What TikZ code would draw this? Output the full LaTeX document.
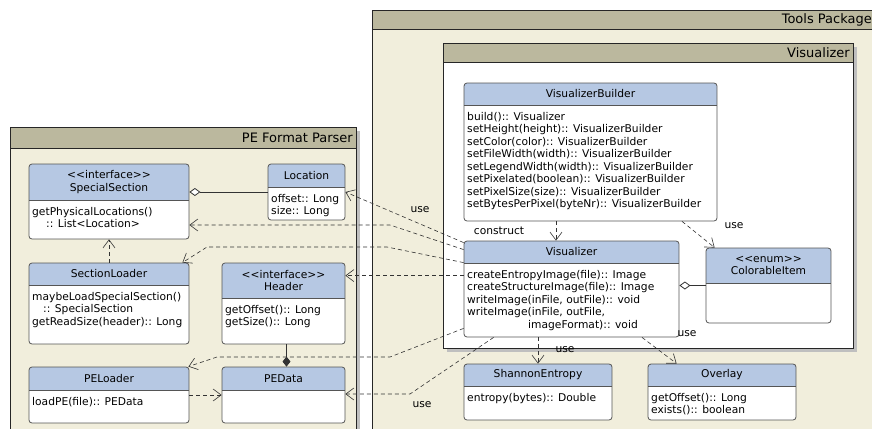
\documentclass[tikz,border=0pt]{standalone}
\usepackage{fontspec}
\setmainfont{DejaVu Sans}
\usetikzlibrary{arrows.meta,fit,calc}

\definecolor{pkghead}{RGB}{187,184,158}
\definecolor{pkgbody}{RGB}{241,238,220}
\definecolor{clshead}{RGB}{182,200,227}
\definecolor{clsline}{RGB}{85,85,85}

% package: name, left, top, right, header bottom, bottom, title, fill
\newcommand{\umlpackage}[8]{
  \fill[black!25] ($(#2,#3)+(4,4)$) rectangle ($(#4,#6)+(4,4)$);
  \fill[#8] (#2,#3) rectangle (#4,#6);
  \fill[pkghead] (#2,#3) rectangle (#4,#5);
  \draw[pkgline] (#2,#3) rectangle (#4,#6) (#2,#5) -- (#4,#5);
  \node[pkgtitle, anchor=east] (#1) at ($(#4,#3)!0.5!(#4,#5)+(-3,0)$) {#7};
}

% class: name, left, top, right, header bottom, bottom, title, members
\newcommand{\umlclass}[8]{
  \begin{scope}
    \clip[rounded corners=3pt] (#2,#3) rectangle (#4,#6);
    \fill[white] (#2,#3) rectangle (#4,#6);
    \fill[clshead] (#2,#3) rectangle (#4,#5);
  \end{scope}
  \draw[clsline, line width=0.8pt] (#2,#5) -- (#4,#5);
  \node[classbox, fit={(#2,#3) (#4,#6)}] (#1) {};
  \node[classtitle] (#1-title) at ($(#2,#3)!0.5!(#4,#5)$) {#7};
  \node[members, anchor=north west] (#1-members) at ($(#2,#5)+(3,7)$) {#8};
}

\begin{document}
\begin{tikzpicture}[x=1pt, y=-1pt,
                    every node/.style = {font=\fontsize{10.7}{12.5}\selectfont},
                    pkgline/.style = {draw=black!85, line width=0.8pt},
                    pkgtitle/.style = {font=\fontsize{13}{15}\selectfont, inner sep=0pt},
                    classbox/.style = {draw=clsline, line width=0.8pt,
                    rounded corners=3pt, inner sep=0pt},
                    classtitle/.style = {align=center, inner sep=0pt},
                    members/.style = {align=left, inner sep=0pt},
                    lbl/.style = {inner sep=0pt},
                    dep/.style = {draw=black!80, line width=0.6pt,
                    dash pattern=on 4pt off 3pt,
                    -{Straight Barb[length=8pt,width=12pt]}},
                    aggr/.style = {draw=black!80, line width=0.8pt,
                    -{Diamond[fill=white,length=11pt,width=8pt]}},
                    comp/.style = {draw=black!80, line width=0.8pt,
                    -{Diamond[length=10pt,width=8pt]}}]
  \useasboundingbox (0,0) rectangle (872,428);
  \clip (0,0) rectangle (872,428);

  \umlpackage{tools}{372}{10}{875}{29}{440}{Tools Package}{pkgbody}
  \umlpackage{vispkg}{443}{43}{853}{62}{348}{Visualizer}{white}
  \umlpackage{pe}{10}{127}{356}{148}{440}{PE Format Parser}{pkgbody}

  \umlclass{vb}{464}{83}{717}{105}{221}{VisualizerBuilder}
    {build():: Visualizer\\
     setHeight(height):: VisualizerBuilder\\
     setColor(color):: VisualizerBuilder\\
     setFileWidth(width):: VisualizerBuilder\\
     setLegendWidth(width):: VisualizerBuilder\\
     setPixelated(boolean):: VisualizerBuilder\\
     setPixelSize(size):: VisualizerBuilder\\
     setBytesPerPixel(byteNr):: VisualizerBuilder}
  \umlclass{vis}{464}{241}{679}{263}{337}{Visualizer}
    {createEntropyImage(file):: Image\\
     createStructureImage(file):: Image\\
     writeImage(inFile, outFile):: void\\
     writeImage(inFile, outFile,\\
     \hspace*{61pt}imageFormat):: void}
  \umlclass{col}{706}{248}{831}{283}{323}{<{}<enum>{}>\\ColorableItem}{}
  \umlclass{sha}{464}{364}{612}{386}{420}{ShannonEntropy}
    {entropy(bytes):: Double}
  \umlclass{ovl}{648}{364}{796}{386}{420}{Overlay}
    {getOffset():: Long\\exists():: boolean}

  \umlclass{spec}{29}{164}{189}{200}{239}{<{}<interface>{}>\\SpecialSection}
    {getPhysicalLocations()\\\hspace*{14pt}:: List<Location>}
  \umlclass{loc}{268}{164}{345}{187}{220}{Location}
    {offset:: Long\\size:: Long}
  \umlclass{secl}{29}{263}{189}{285}{344}{SectionLoader}
    {maybeLoadSpecialSection()\\\hspace*{11pt}:: SpecialSection\\
     getReadSize(header):: Long}
  \umlclass{hdr}{222}{263}{345}{298}{344}{<{}<interface>{}>\\Header}
    {getOffset():: Long\\getSize():: Long}
  \umlclass{pel}{29}{367}{189}{390}{423}{PELoader}{loadPE(file):: PEData}
  \umlclass{ped}{222}{367}{345}{390}{423}{PEData}{}

  \coordinate (k2) at (390,225);
  \coordinate (k3a) at (387,247);
  \coordinate (k3b) at (207,247);
  \coordinate (k4) at ([yshift=-35pt]vis.north west);
  \coordinate (k5a) at (390,357);
  \coordinate (k5b) at (217,357);
  \coordinate (k6) at (410,394);

  \draw[dep] ([xshift=-34.5pt]vb.south) -- ([xshift=-15.5pt]vis.north);
  \draw[dep] ([xshift=91.5pt]vb.south) -- ([xshift=9pt]col.north west);
  \draw[aggr] (col.west) -- (col.west -| vis.east);
  \draw[dep] (sha.north |- vis.south) -- (sha.north);
  \draw[dep] ([xshift=70.5pt]vis.south) -- ([xshift=29pt]ovl.north west);

  \draw[dep] ([yshift=-2pt]vis.north west) -- (loc.east);
  \draw[dep] ([yshift=-9pt]vis.north west) -- (k2) -- (k2 -| spec.east);
  \draw[dep] ([yshift=-22pt]vis.north west) -- (k3a) -- (k3b)
    -- ([xshift=-7pt]secl.north east);
  \draw[dep] (k4) -- (k4 -| hdr.east);
  \draw[dep] ([yshift=9pt]vis.south west) -- (k5a) -- (k5b)
    -- ([xshift=-1pt]pel.north east);
  \draw[dep] ([xshift=30pt]vis.south west) -- (k6) -- (k6 -| ped.east);

  \draw[aggr] (loc.west) -- (loc.west -| spec.east);
  \draw[dep] (secl.north) -- (spec.south);
  \draw[comp] ([xshift=3pt]hdr.south) -- ([xshift=3pt]ped.north);
  \draw[dep] (pel.east) -- (ped.west);

  \node[lbl] (use-loc) at (420,210) {use};
  \node[lbl] (construct) at (499,231) {construct};
  \node[lbl] (use-col) at (734,226) {use};
  \node[lbl] (use-sha) at (565,350) {use};
  \node[lbl] (use-ovl) at (687,334) {use};
  \node[lbl] (use-ped) at (422,405) {use};
\end{tikzpicture}
\end{document}
